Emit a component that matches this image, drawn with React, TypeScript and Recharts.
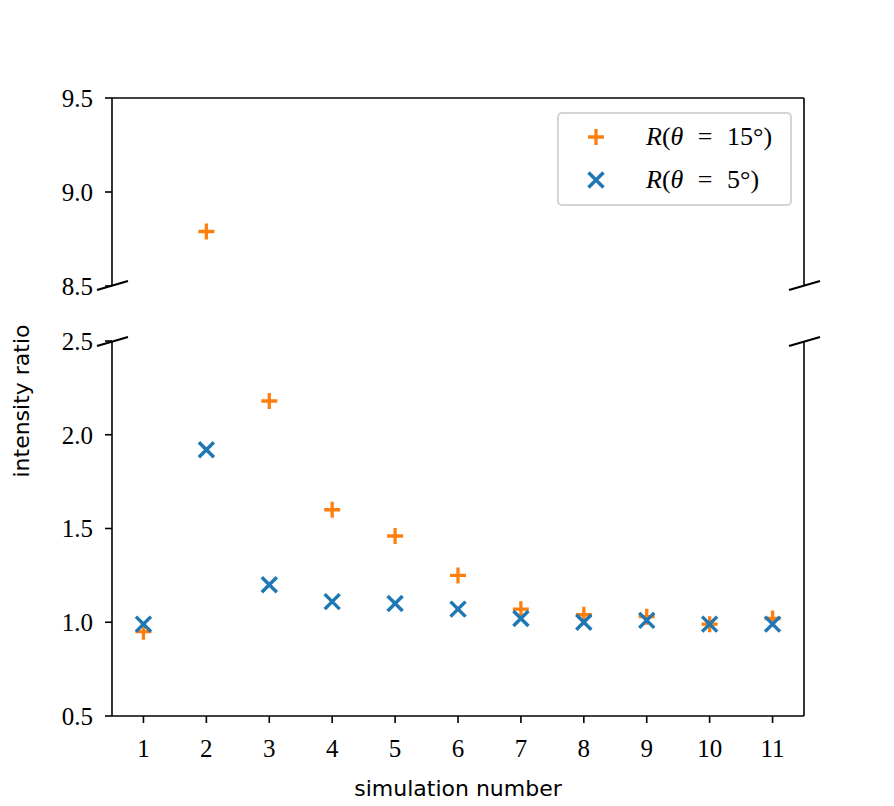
import React from "react";
import { ScatterChart, Scatter, XAxis, YAxis, ReferenceLine } from "recharts";

const simulations = [1, 2, 3, 4, 5, 6, 7, 8, 9, 10, 11];
const ratio15 = [0.95, 8.79, 2.18, 1.6, 1.46, 1.25, 1.07, 1.04, 1.03, 0.99, 1.02];
const ratio5 = [0.99, 1.92, 1.2, 1.11, 1.1, 1.07, 1.02, 1.0, 1.01, 0.99, 0.99];
const xTicks = [1, 2, 3, 4, 5, 6, 7, 8, 9, 10, 11];
const topTicks = [8.5, 9.0, 9.5];
const bottomTicks = [0.5, 1.0, 1.5, 2.0, 2.5];

const ORANGE = "#ff7f0e";
const BLUE = "#1f77b4";
const tickFont = { fontFamily: "'Liberation Serif', serif", fontSize: 25, fill: "#000" };

function points(values: number[], lo: number, hi: number) {
  return simulations
    .map((s, i) => ({ x: s, y: values[i] }))
    .filter((p) => p.y >= lo && p.y <= hi);
}

function Plus({ cx, cy }: { cx?: number; cy?: number }) {
  if (cx == null || cy == null) return null;
  return (
    <path
      d={`M${cx - 8},${cy}H${cx + 8}M${cx},${cy - 8}V${cy + 8}`}
      stroke={ORANGE}
      strokeWidth={3.3}
      fill="none"
    />
  );
}

function Cross({ cx, cy }: { cx?: number; cy?: number }) {
  if (cx == null || cy == null) return null;
  const r = 7.5;
  return (
    <path
      d={`M${cx - r},${cy - r}L${cx + r},${cy + r}M${cx - r},${cy + r}L${cx + r},${cy - r}`}
      stroke={BLUE}
      strokeWidth={3.5}
      fill="none"
    />
  );
}

// legend drawn as plain HTML so it does not eat into the plot area
function LegendBox() {
  const txt = {
    position: "absolute" as const,
    left: 87,
    fontFamily: "'Liberation Serif', serif",
    fontSize: 26,
    lineHeight: "30px",
    wordSpacing: 8,
    whiteSpace: "nowrap" as const,
  };
  return (
    <div
      style={{
        position: "absolute",
        left: 557,
        top: 112,
        width: 231,
        height: 90,
        border: "2px solid #d4d4d4",
        borderRadius: 5,
        background: "rgba(255,255,255,0.8)",
      }}
    >
      <svg width={80} height={90} style={{ position: "absolute", left: 0, top: 0 }}>
        <Plus cx={37} cy={23} />
        <Cross cx={37} cy={66} />
      </svg>
      <span style={{ ...txt, top: 8 }}>
        <i>R</i>(<i>θ</i> = 15°)
      </span>
      <span style={{ ...txt, top: 51 }}>
        <i>R</i>(<i>θ</i> = 5°)
      </span>
    </div>
  );
}

const axisStroke = { stroke: "#000", strokeWidth: 1.6 };

export default function App() {
  return (
    <div style={{ position: "absolute", left: 0, top: 0, width: 894, height: 806, background: "#fff" }}>
      <div style={{ position: "absolute", left: 0, top: 0 }}>
        <ScatterChart width={894} height={300} margin={{ top: 98, right: 90, bottom: 14, left: 52 }}>
          <XAxis type="number" dataKey="x" domain={[0.5, 11.5]} hide />
          <YAxis
            type="number"
            dataKey="y"
            domain={[8.5, 9.5]}
            ticks={topTicks}
            tickFormatter={(v: number) => v.toFixed(1)}
            width={60}
            tick={tickFont}
            tickSize={7}
            tickMargin={12}
            axisLine={axisStroke}
            tickLine={axisStroke}
            allowDataOverflow
          />
          <ReferenceLine y={9.5} stroke="#000" strokeWidth={1.6} />
          <ReferenceLine x={11.5} stroke="#000" strokeWidth={1.6} />
          <Scatter
            name="R15"
            data={points(ratio15, 8.5, 9.5)}
            shape={(p: any) => <Plus cx={p.cx} cy={p.cy} />}
            isAnimationActive={false}
          />
          <Scatter
            name="R5"
            data={points(ratio5, 8.5, 9.5)}
            shape={(p: any) => <Cross cx={p.cx} cy={p.cy} />}
            isAnimationActive={false}
          />
        </ScatterChart>
      </div>
      <div style={{ position: "absolute", left: 0, top: 300 }}>
        <ScatterChart width={894} height={506} margin={{ top: 41, right: 90, bottom: 40, left: 52 }}>
          <XAxis
            type="number"
            dataKey="x"
            domain={[0.5, 11.5]}
            ticks={xTicks}
            height={50}
            tick={tickFont}
            tickSize={7}
            tickMargin={16}
            axisLine={axisStroke}
            tickLine={axisStroke}
          />
          <YAxis
            type="number"
            dataKey="y"
            domain={[0.5, 2.5]}
            ticks={bottomTicks}
            tickFormatter={(v: number) => v.toFixed(1)}
            width={60}
            tick={tickFont}
            tickSize={7}
            tickMargin={12}
            axisLine={axisStroke}
            tickLine={axisStroke}
            allowDataOverflow
          />
          <ReferenceLine x={11.5} stroke="#000" strokeWidth={1.6} />
          <Scatter
            name="R15"
            data={points(ratio15, 0.5, 2.5)}
            shape={(p: any) => <Plus cx={p.cx} cy={p.cy} />}
            isAnimationActive={false}
          />
          <Scatter
            name="R5"
            data={points(ratio5, 0.5, 2.5)}
            shape={(p: any) => <Cross cx={p.cx} cy={p.cy} />}
            isAnimationActive={false}
          />
        </ScatterChart>
      </div>
      <LegendBox />
      <svg
        width={894}
        height={806}
        style={{ position: "absolute", left: 0, top: 0, pointerEvents: "none" }}
      >
        <g stroke="#000" strokeWidth={2.2}>
          <line x1={97} y1={290} x2={128} y2={281} />
          <line x1={97} y1={346} x2={128} y2={337} />
          <line x1={789} y1={290} x2={820} y2={281} />
          <line x1={789} y1={346} x2={820} y2={337} />
        </g>
        <text
          x={458}
          y={796}
          textAnchor="middle"
          fontFamily="'DejaVu Sans', sans-serif"
          fontSize={22}
        >
          simulation number
        </text>
        <text
          transform="translate(29,401) rotate(-90)"
          textAnchor="middle"
          fontFamily="'DejaVu Sans', sans-serif"
          fontSize={22}
        >
          intensity ratio
        </text>
      </svg>
    </div>
  );
}
